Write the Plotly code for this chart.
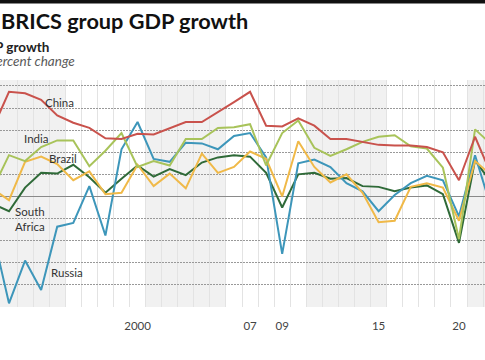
import plotly.graph_objects as go

years = list(range(1991, 2023))
china = [9.3, 14.2, 14.0, 13.1, 11.0, 10.0, 9.3, 7.9, 7.8, 8.5, 8.4, 9.2, 10.1, 10.1, 11.4, 12.8,
         14.2, 9.6, 9.5, 10.6, 9.6, 7.8, 7.8, 7.4, 7.0, 6.9, 6.9, 6.7, 6.0, 2.2, 8.1, 3.0]
india = [1.1, 5.6, 4.8, 6.7, 7.6, 7.6, 4.1, 6.2, 8.6, 4.0, 4.8, 4.2, 7.8, 7.8, 9.3, 9.4,
         9.8, 4.2, 8.6, 10.3, 6.6, 5.5, 6.4, 7.4, 8.1, 8.3, 6.8, 6.5, 3.9, -5.8, 9.1, 7.1]
brazil = [1.0, -0.5, 4.7, 5.4, 4.4, 2.2, 3.4, 0.3, 0.5, 4.3, 1.4, 3.1, 1.1, 5.8, 3.2, 4.0,
          6.1, 5.1, 0.0, 7.5, 4.0, 1.9, 3.0, 0.5, -3.5, -3.3, 1.3, 1.8, 1.2, -3.3, 4.8, 2.9]
south_africa = [-1.0, -2.0, 1.2, 3.2, 3.1, 4.3, 2.6, 0.5, 2.4, 4.2, 2.7, 3.7, 2.9, 4.6, 5.3, 5.6,
                5.4, 3.2, -1.5, 3.0, 3.2, 2.4, 2.5, 1.4, 1.3, 0.7, 1.2, 1.5, 0.3, -6.3, 4.9, 1.9]
russia = [-5.0, -14.5, -8.7, -12.7, -4.1, -3.6, 1.4, -5.3, 6.4, 10.1, 5.1, 4.7, 7.3, 7.2, 6.4, 8.2,
          8.6, 5.3, -7.8, 4.5, 5.0, 4.0, 1.8, 0.7, -2.0, 0.2, 1.8, 2.8, 2.2, -2.7, 5.6, -1.5]

tick_years = [1991, 2000, 2007, 2009, 2015, 2020]
tick_labels = ["1991", "2000", "07", "09", "15", "20"]
band_starts = [1990.5, 2000.5, 2010.5, 2020.5]
band_width = 5

series = [
    ("South Africa", south_africa, "#2f6a38"),
    ("Russia", russia, "#3d96ba"),
    ("Brazil", brazil, "#f0b948"),
    ("India", india, "#a8c35a"),
    ("China", china, "#c9524c"),
]

W, H = 485, 360
MT, MB = 80, 53
ph = H - MT - MB


def ypaper(py):
    return (H - MB - py) / ph


fig = go.Figure()
for name, vals, col in series:
    fig.add_trace(go.Scatter(x=years, y=vals, mode="lines", name=name,
                             line=dict(color=col, width=2), hoverinfo="skip"))

for b in band_starts:
    fig.add_shape(type="rect", xref="x", yref="paper", x0=b, x1=b + band_width, y0=0, y1=1,
                  fillcolor="#f1f1f1", line=dict(width=0), layer="below")

# top black rule
fig.add_shape(type="rect", xref="paper", yref="paper", x0=0, x1=1, y0=ypaper(3.5), y1=ypaper(0),
              fillcolor="#111111", line=dict(width=0), layer="above")

labels = [
    ("China", 1995.17, 12.8, "center"),
    ("India", 1993.65, 7.9, "center"),
    ("Brazil", 1995.33, 5.2, "center"),
    ("South<br>Africa", 1992.25, -3.1, "left"),
    ("Russia", 1995.6, -10.3, "center"),
]
for txt, lx, ly, anc in labels:
    fig.add_annotation(x=lx, y=ly, xref="x", yref="y", text=txt, showarrow=False,
                       xanchor=anc, yanchor="middle", align="left",
                       font=dict(family="Lato", size=11.5, color="#333333"))

fig.add_annotation(x=-1 / W, y=ypaper(21), xref="paper", yref="paper", yanchor="middle", xanchor="left",
                   text="<b>BRICS group GDP growth</b>", showarrow=False,
                   font=dict(family="Lato", size=21.7, color="#111111"))
fig.add_annotation(x=-27 / W, y=ypaper(47), xref="paper", yref="paper", xanchor="left", yanchor="middle",
                   text="<b>GDP growth</b>", showarrow=False,
                   font=dict(family="Lato", size=13.5, color="#222222"))
fig.add_annotation(x=-13 / W, y=ypaper(61.5), xref="paper", yref="paper", xanchor="left", yanchor="middle",
                   text="<i>Percent change</i>", showarrow=False,
                   font=dict(family="Lato", size=13.5, color="#5a5a5a"))

fig.update_layout(
    width=W, height=H,
    margin=dict(l=0, r=0, t=MT, b=MB, autoexpand=False),
    paper_bgcolor="white", plot_bgcolor="white",
    showlegend=False,
    xaxis=dict(range=[1991.44, 2021.62], tickmode="array", tickvals=tick_years, ticktext=tick_labels,
               showgrid=False, zeroline=False, showline=False, ticks="", automargin=False,
               ticklabelstandoff=10,
               tickfont=dict(family="Lato", size=11.5, color="#444444"),
               minor=dict(tickmode="linear", tick0=1991.5, dtick=1, showgrid=True,
                          gridcolor="#e3e3e3", gridwidth=1, ticks="")),
    yaxis=dict(range=[-15, 15.8], tickmode="linear", tick0=0, dtick=3, showgrid=True,
               gridcolor="#999999", griddash="1.5px,1.5px", gridwidth=1, automargin=False,
               zeroline=True, zerolinecolor="#8a8a8a", zerolinewidth=1,
               showticklabels=False, showline=False, ticks=""),
)

fig.write_html("out.html", config={"displayModeBar": False},
               post_script="document.body.style.margin='0';document.body.style.overflow='hidden';")
